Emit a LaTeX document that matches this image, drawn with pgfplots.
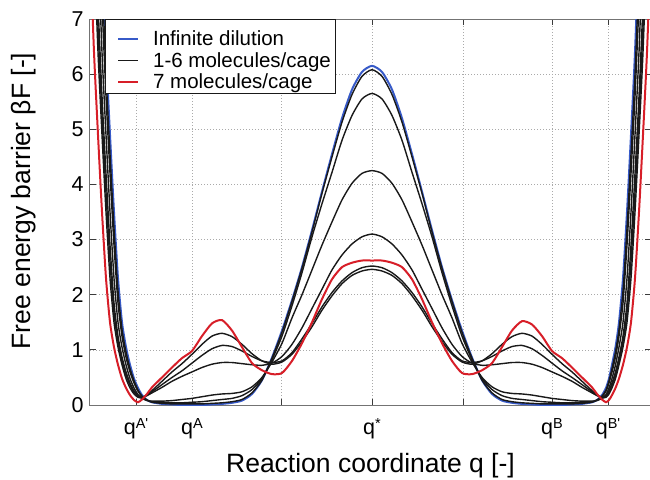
\documentclass[border=0pt]{standalone}
\usepackage{fontspec}
\setmainfont{Liberation Sans}
\usepackage{pgfplots}
\pgfplotsset{compat=1.18}
\usepackage{pgfplotstable}
\newcommand{\qs}[1]{q\raisebox{6pt}{\fontsize{14.5}{15}\selectfont #1}}
\definecolor{cblue}{RGB}{55,90,200}
\definecolor{cblack}{RGB}{25,25,25}
\definecolor{cred}{RGB}{215,30,40}
\definecolor{cframe}{RGB}{115,115,115}
\definecolor{cgrid}{RGB}{170,170,170}

\pgfplotstableread{
x bl b1 b2 b3 b4 b5 b6 rd
-290 23 22 21 19.5 18 17.2 16.5 13.5
-286 19.5 18.7 18 16.5 15 14.2 13.5 10.7
-282 16.5 15.7 15 13.5 12 11.3 10.7 8.4
-278 13.5 12.7 12 10.7 9.5 8.95 8.4 6.4
-274 10.7 10.1 9.5 8.4 7.3 6.85 6.4 4.9
-270 8.4 7.85 7.3 6.4 5.6 5.25 4.9 3.5
-266 6.4 6.0 5.6 4.9 4.2 3.85 3.5 2.3
-262 4.9 4.55 4.2 3.5 2.9 2.6 2.3 1.5
-258 3.5 3.2 2.9 2.3 1.85 1.67 1.5 1.05
-254 2.3 2.07 1.85 1.5 1.25 1.15 1.05 0.73
-250 1.5 1.37 1.25 1.05 0.87 0.8 0.73 0.48
-246 1.05 0.96 0.87 0.73 0.6 0.54 0.48 0.31
-242 0.73 0.66 0.6 0.48 0.4 0.36 0.31 0.18
-238 0.48 0.44 0.4 0.31 0.26 0.23 0.2 0.09
-234 0.31 0.27 0.25 0.19 0.17 0.16 0.14 0.05
-230 0.18 0.16 0.15 0.12 0.14 0.14 0.13 0.1
-225 0.09 0.09 0.09 0.08 0.17 0.18 0.18 0.2
-220 0.05 0.05 0.06 0.07 0.22 0.24 0.26 0.32
-210 0.02 0.03 0.05 0.07 0.32 0.37 0.43 0.5
-200 0.01 0.02 0.04 0.08 0.43 0.5 0.6 0.68
-190 0.0 0.02 0.04 0.1 0.52 0.62 0.75 0.85
-180 0.0 0.02 0.05 0.12 0.6 0.76 0.92 0.98
-170 0.0 0.02 0.06 0.15 0.68 0.9 1.1 1.25
-160 0.01 0.03 0.08 0.18 0.74 1.02 1.25 1.48
-150 0.02 0.04 0.1 0.2 0.77 1.08 1.3 1.54
-140 0.04 0.06 0.12 0.21 0.77 1.06 1.24 1.35
-130 0.08 0.1 0.17 0.24 0.75 0.98 1.1 1.05
-120 0.2 0.22 0.28 0.33 0.73 0.88 0.93 0.76
-110 0.45 0.45 0.48 0.5 0.72 0.8 0.8 0.63
-100 0.86 0.85 0.82 0.78 0.76 0.77 0.74 0.56
-90 1.35 1.32 1.25 1.12 0.88 0.8 0.78 0.58
-80 1.9 1.88 1.8 1.58 1.1 0.95 0.92 0.8
-70 2.5 2.48 2.4 2.0 1.4 1.2 1.15 1.12
-60 3.17 3.14 3.05 2.45 1.75 1.48 1.42 1.5
-50 3.87 3.84 3.65 2.9 2.1 1.78 1.72 1.92
-40 4.55 4.5 4.22 3.32 2.45 2.04 1.98 2.28
-30 5.2 5.13 4.8 3.72 2.72 2.25 2.2 2.5
-20 5.72 5.63 5.25 4.02 2.92 2.4 2.35 2.58
-10 6.04 5.96 5.55 4.2 3.05 2.49 2.43 2.62
0 6.15 6.08 5.65 4.25 3.1 2.52 2.46 2.62
10 6.04 5.96 5.55 4.2 3.05 2.49 2.43 2.62
20 5.72 5.63 5.25 4.02 2.92 2.4 2.35 2.58
30 5.2 5.13 4.8 3.72 2.72 2.25 2.2 2.5
40 4.55 4.5 4.22 3.32 2.45 2.04 1.98 2.28
50 3.87 3.84 3.65 2.9 2.1 1.78 1.72 1.92
60 3.17 3.14 3.05 2.45 1.75 1.48 1.42 1.5
70 2.5 2.48 2.4 2.0 1.4 1.2 1.15 1.12
80 1.9 1.88 1.8 1.58 1.1 0.95 0.92 0.8
90 1.35 1.32 1.25 1.12 0.88 0.8 0.78 0.58
100 0.86 0.85 0.82 0.78 0.76 0.77 0.74 0.56
110 0.45 0.45 0.48 0.5 0.72 0.8 0.8 0.63
120 0.2 0.22 0.28 0.33 0.73 0.88 0.93 0.76
130 0.08 0.1 0.17 0.24 0.75 0.98 1.1 1.05
140 0.04 0.06 0.12 0.21 0.77 1.06 1.24 1.35
150 0.02 0.04 0.1 0.2 0.77 1.08 1.3 1.52
160 0.01 0.03 0.08 0.18 0.74 1.02 1.25 1.46
170 0.0 0.02 0.06 0.15 0.68 0.9 1.1 1.25
180 0.0 0.02 0.05 0.12 0.6 0.76 0.92 0.98
190 0.0 0.02 0.04 0.1 0.52 0.62 0.75 0.85
200 0.01 0.02 0.04 0.08 0.43 0.5 0.6 0.68
210 0.02 0.03 0.05 0.07 0.32 0.37 0.43 0.5
220 0.05 0.05 0.06 0.07 0.22 0.24 0.26 0.32
225 0.09 0.09 0.09 0.08 0.17 0.18 0.18 0.2
230 0.18 0.16 0.15 0.12 0.14 0.14 0.13 0.1
234 0.31 0.27 0.25 0.19 0.17 0.16 0.14 0.05
237 0.48 0.44 0.4 0.31 0.26 0.23 0.2 0.09
240 0.73 0.66 0.6 0.48 0.4 0.36 0.31 0.18
243.5 1.05 0.96 0.87 0.73 0.6 0.54 0.48 0.31
247 1.5 1.37 1.25 1.05 0.87 0.8 0.73 0.48
251 2.3 2.07 1.85 1.5 1.25 1.15 1.05 0.73
255 3.5 3.2 2.9 2.3 1.85 1.67 1.5 1.05
259 4.9 4.55 4.2 3.5 2.9 2.6 2.3 1.5
263 6.4 6.0 5.6 4.9 4.2 3.85 3.5 2.3
267 8.4 7.85 7.3 6.4 5.6 5.25 4.9 3.5
271 10.7 10.1 9.5 8.4 7.3 6.85 6.4 4.9
275 13.5 12.7 12 10.7 9.5 8.95 8.4 6.4
279 16.5 15.7 15 13.5 12 11.3 10.7 8.4
283 19.5 18.7 18 16.5 15 14.2 13.5 10.7
287 23 22 21 19.5 18 17.2 16.5 13.5
}\data

\begin{document}
\begin{tikzpicture}
\useasboundingbox (-90pt,-74pt) rectangle (560pt,405pt);
\begin{axis}[
  at={(0pt,0pt)}, anchor=south west,
  scale only axis, width=561pt, height=386pt,
  xmin=-282, xmax=279, ymin=0, ymax=7,
  xtick={-236,-180,-91,0,91,180,236},
  xticklabels={\qs{A\textquotesingle},\qs{A},,\qs{*},,\qs{B},\qs{B\textquotesingle}},
  ytick={0,1,2,3,4,5,6,7},
  grid=major,
  grid style={cgrid, line width=0.6pt, dash pattern=on 1.2pt off 1.8pt},
  axis line style={cframe, line width=1pt},
  tick align=inside,
  major tick length=6pt,
  tick style={cblack!85, line width=0.8pt},
  tick label style={font=\fontsize{21.5}{24}\selectfont},
  /pgf/number format/assume math mode=true,
  xticklabel style={anchor=base, yshift=-29pt},
  yticklabel style={xshift=-3pt},
  xlabel={Reaction coordinate q [-]},
  ylabel={Free energy barrier βF [-]},
  label style={font=\fontsize{26.5}{30}\selectfont},
  xlabel style={at={(axis description cs:0.5,0)}, anchor=base, yshift=-67pt},
  ylabel style={at={(axis description cs:-0.1052,0.5285)}, anchor=base},
  legend style={at={(axis description cs:0.0267,1)}, anchor=north west,
    draw=cblack, line width=0.8pt, fill=white,
    font=\fontsize{20.5}{22}\selectfont,
    inner xsep=5pt, inner ysep=4.3pt,
    nodes={inner sep=0pt, text height=21.7pt, text depth=0pt},
    column sep=14pt, row sep=0pt, cells={anchor=west}},
  legend image code/.code={\path (0pt,0pt); \draw[line width=1.5pt] (7pt,-4.2pt) -- (27pt,-4.2pt);},
  every axis plot/.append style={smooth, tension=0.4},
]
\addplot[cblue, line width=2pt] table[x=x, y=bl] {\data};
\addlegendentry{Infinite dilution}
\addplot[cblack, line width=1.4pt] table[x=x, y=b1] {\data};
\addlegendentry{1-6 molecules/cage}
\addplot[cblack, line width=1.4pt, forget plot] table[x=x, y=b2] {\data};
\addplot[cblack, line width=1.4pt, forget plot] table[x=x, y=b3] {\data};
\addplot[cblack, line width=1.4pt, forget plot] table[x=x, y=b4] {\data};
\addplot[cblack, line width=1.4pt, forget plot] table[x=x, y=b5] {\data};
\addplot[cblack, line width=1.4pt, forget plot] table[x=x, y=b6] {\data};
\addplot[cred, line width=2pt] table[x=x, y=rd] {\data};
\addlegendentry{7 molecules/cage}
\end{axis}
\end{tikzpicture}
\end{document}
